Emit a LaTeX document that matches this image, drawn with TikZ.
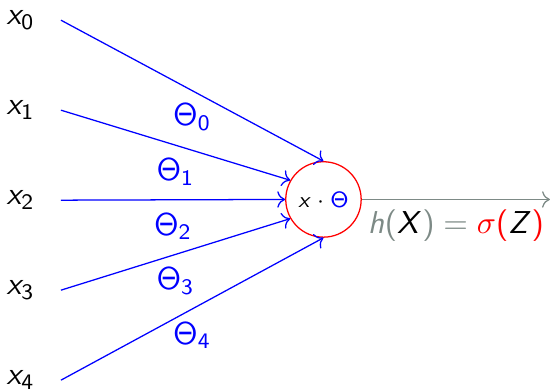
\documentclass[tikz,border=0pt]{standalone}
\usepackage{amsmath,amssymb}
\usepackage[dvipsnames]{xcolor}
\usepackage{tikz}
\usetikzlibrary{arrows.meta,positioning}
\definecolor{outgray}{RGB}{125,138,134}
% sans serif maths, as in slides
\DeclareMathVersion{sfslides}
\SetSymbolFont{operators}{sfslides}{OT1}{cmss}{m}{n}
\SetSymbolFont{letters}{sfslides}{OT1}{cmss}{m}{sl}
\DeclareSymbolFont{greekit}{OML}{cmm}{m}{it}
\DeclareMathSymbol{\sigmait}{\mathord}{greekit}{"1B}

\begin{document}
\mathversion{sfslides}
\begin{tikzpicture}[
  inp/.style={minimum width=0.88cm, inner sep=0pt},
  wline/.style={blue, ->},
  wlab/.style={midway, below, blue, inner sep=4pt},
]
\useasboundingbox (0,0) rectangle (6.122,4.344);
% Inputs
\node[inp] (x0) at (0.23,4.12) {$x_0$};
\node[inp] (x1) at (0.23,3.12) {$x_1$};
\node[inp] (x2) at (0.23,2.12) {$x_2$};
\node[inp] (x3) at (0.23,1.12) {$x_3$};
\node[inp] (x4) at (0.23,0.12) {$x_4$};
% Summation unit
\node[draw=red, circle, minimum size=0.838cm, inner sep=0pt, font=\scriptsize] (sum) at (3.594,2.128) {$x\cdot{\color{blue}\Theta}$};
% Weighted inputs
\draw[wline] (x0.east) -- (sum.north) node[wlab] {$\Theta_0$};
\draw[wline] (x1.east) -- (sum.150) node[wlab] {$\Theta_1$};
\draw[wline] (x2.east) -- (sum.west) node[wlab] {$\Theta_2$};
\draw[wline] (x3.east) -- (sum.210) node[wlab] {$\Theta_3$};
\draw[wline] (x4.east) -- (sum.south) node[wlab] {$\Theta_4$};
% Output
\coordinate (out) at (6.11,2.128);
\draw[outgray, ->] (sum) -- (out) node[midway, below, inner sep=3pt] {$h({\color{black}X}) = {\color{red}\sigmait(}{\color{black}Z}{\color{red})}$};
\end{tikzpicture}
\end{document}
